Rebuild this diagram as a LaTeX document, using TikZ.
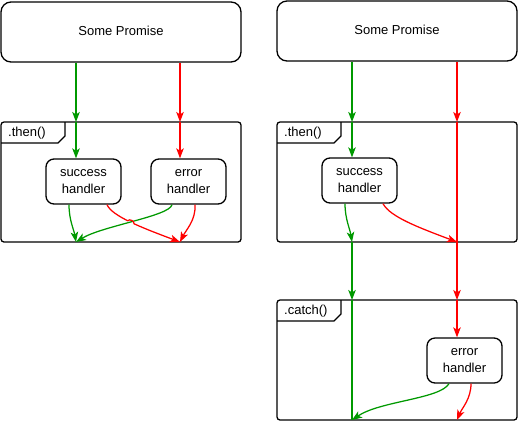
\documentclass[tikz,border=0pt]{standalone}
\usepackage{fontspec}
\setmainfont{Liberation Sans}
\usetikzlibrary{arrows.meta,intersections}
\definecolor{okgreen}{HTML}{009900}
\definecolor{errred}{HTML}{FF0000}
\begin{document}
\begin{tikzpicture}[x=1pt,y=1pt,
  promisebox/.style={draw=black,line width=1.3pt,rounded corners=10pt,minimum width=240pt,minimum height=60pt,inner sep=0pt,font=\fontsize{13}{16}\selectfont},
  handlerbox/.style={draw=black,line width=1.3pt,rounded corners=8pt,minimum width=75pt,minimum height=45pt,inner sep=0pt,align=center,font=\fontsize{13}{16.5}\selectfont},
  framebox/.style={draw=black,line width=1.3pt,rounded corners=3pt},
  tabline/.style={draw=black,line width=1.1pt},
  tablabel/.style={anchor=west,inner sep=0pt,font=\fontsize{13}{16}\selectfont},
  flow/.style={line width=1.25pt,-{Stealth[length=10pt,width=7.5pt,inset=2.5pt]}},
  flowplain/.style={line width=1.25pt},
  ok/.style={draw=okgreen,color=okgreen},
  bad/.style={draw=errred,color=errred}]
\useasboundingbox (0,0) rectangle (518,-424);

% ---------- left diagram ----------
\node[promisebox] (p1) at (121,-32) {\raisebox{1.5pt}{Some Promise}};
\draw[framebox] (1,-122) rectangle (241,-242);
\draw[tabline] (65,-122) -- (65,-136) -- (58,-143) -- (1,-143);
\node[tablabel] (t1) at (8,-133) {.then()};
\node[handlerbox] (sh1) at (83.5,-181.5) {success\\handler};
\node[handlerbox] (eh1) at (188.5,-181.5) {error\\handler};

\coordinate (g1a) at (76,-122);
\coordinate (r1a) at (180,-122);
\coordinate (g1b) at (76,-242);
\coordinate (r1b) at (180,-242);

\draw[flow,ok] (p1.south -| g1a) -- (g1a);
\draw[flow,bad] (p1.south -| r1a) -- (r1a);
\draw[flow,ok] (g1a) -- (sh1.north -| g1a);
\draw[flow,bad] (r1a) -- (eh1.north -| r1a);

\draw[flow,ok] (sh1.south -| 69,0) .. controls (69,-220) and (74,-230) .. (g1b);
\draw[flow,bad] (eh1.south -| 195,0) .. controls (196,-220) and (186,-230) .. (r1b);
% red crossing with hop
\draw[flow,bad,name path=redx] (sh1.south -| 107,0) .. controls (112,-216) and (140,-227) .. (r1b);
\path[name path=greenx] (eh1.south -| 172,0) .. controls (170,-216) and (102,-226) .. (g1b);
\path[name intersections={of=redx and greenx, by=X}];
\fill[white] (X) circle (3.4pt);
\draw[flow,ok] (eh1.south -| 172,0) .. controls (170,-216) and (102,-226) .. (g1b);
\path[name path=hopc] (X) circle (3.4pt);
\path[name intersections={of=redx and hopc, sort by=redx, name=H}];
\draw[flowplain,bad,-] (H-1) to[bend left=80] (H-2);

% ---------- right diagram ----------
\node[promisebox] (p2) at (397,-31) {\raisebox{1.5pt}{Some Promise}};
\draw[framebox] (277,-122) rectangle (517,-242);
\draw[tabline] (341,-122) -- (341,-136) -- (334,-143) -- (277,-143);
\node[tablabel] (t2) at (284,-133) {.then()};
\node[handlerbox] (sh2) at (359.5,-180.5) {success\\handler};

\draw[framebox] (277,-300) rectangle (517,-420);
\draw[tabline] (341,-300) -- (341,-314) -- (334,-321) -- (277,-321);
\node[tablabel] (t3) at (284,-311) {.catch()};
\node[handlerbox] (eh2) at (464.5,-360.5) {error\\handler};

\coordinate (g2a) at (352,-122);
\coordinate (r2a) at (457,-122);
\coordinate (g2b) at (352,-242);
\coordinate (r2b) at (457,-242);
\coordinate (g2c) at (352,-300);
\coordinate (r2c) at (457,-300);
\coordinate (g2d) at (352,-420);
\coordinate (r2d) at (457,-420);

\draw[flow,ok] (p2.south -| g2a) -- (g2a);
\draw[flow,bad] (p2.south -| r2a) -- (r2a);
\draw[flow,ok] (g2a) -- (sh2.north -| g2a);
\draw[flowplain,bad] (r2a) -- (r2b);
\draw[flow,ok] (sh2.south -| 345,0) .. controls (345,-219) and (350,-229) .. (g2b);
\draw[flow,bad] (sh2.south -| 383,0) .. controls (390,-217) and (420,-228) .. (r2b);

\draw[flow,ok] (g2b) -- (g2c);
\draw[flow,bad] (r2b) -- (r2c);
\draw[flowplain,ok] (g2c) -- (g2d);
\draw[flow,bad] (r2c) -- (eh2.north -| r2c);
\draw[flow,ok] (eh2.south -| 449,0) .. controls (440,-399) and (380,-401) .. (g2d);
\draw[flow,bad] (eh2.south -| 471,0) .. controls (471,-399) and (462,-408) .. (r2d);
\end{tikzpicture}
\end{document}
